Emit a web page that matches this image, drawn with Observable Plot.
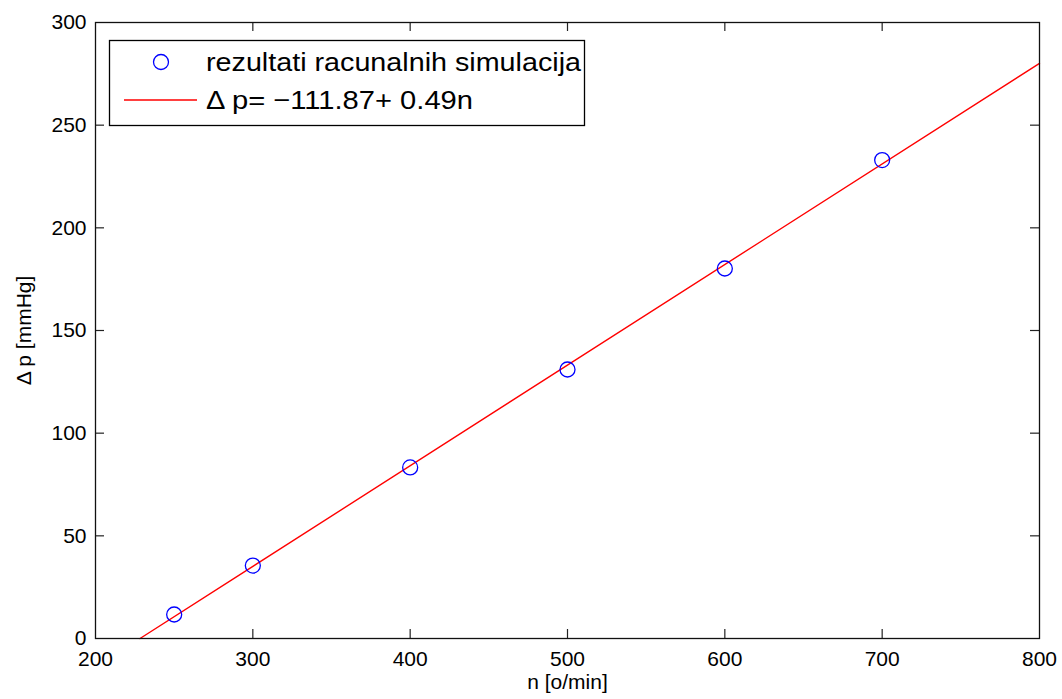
<!DOCTYPE html>
<html>
<head>
<meta charset="utf-8">
<script src="https://cdn.jsdelivr.net/npm/d3@7"></script>
<script src="https://cdn.jsdelivr.net/npm/@observablehq/plot@0.6"></script>
<style>
  html, body { margin: 0; padding: 0; background: #fff; }
  #chart { width: 1062px; height: 699px; }
</style>
</head>
<body>
<div id="chart"></div>
<script>
// Simulation results
const speedN = [250, 300, 400, 500, 600, 700];
const pressureP = [11.7, 35.5, 83.3, 131, 180.2, 233];

// Fitted line endpoints (Δp = -111.87 + 0.49n)
const fitN = [228.31, 800];
const fitP = [0, 280.13];

// Axis ticks
const xTicks = [200, 300, 400, 500, 600, 700, 800];
const yTicks = [0, 50, 100, 150, 200, 250, 300];

const legendLabels = ["rezultati racunalnih simulacija", "\u0394 p= \u2212111.87+ 0.49n"];
const xLabel = "n [o/min]";
const yLabel = "\u0394 p [mmHg]";

const points = speedN.map((n, i) => ({n, p: pressureP[i]}));
const fit = fitN.map((n, i) => ({n, p: fitP[i]}));

const W = 1062, H = 699;
const mL = 95, mR = 23, mT = 22, mB = 61;
const plotW = W - mL - mR, plotH = H - mT - mB;
const tickLen = 9;
const font = "'Liberation Sans', Arial, Helvetica, sans-serif";

const chart = Plot.plot({
  width: W,
  height: H,
  marginLeft: mL,
  marginRight: mR,
  marginTop: mT,
  marginBottom: mB,
  style: {fontFamily: font, fontSize: "21px", background: "#fff", color: "#000"},
  x: {domain: [200, 800]},
  y: {domain: [0, 300]},
  marks: [
    Plot.line(fit, {x: "n", y: "p", stroke: "red", strokeWidth: 1.4}),
    Plot.dot(points, {x: "n", y: "p", r: 7.5, stroke: "blue", strokeWidth: 1.3, fill: "none"}),
    // inward ticks
    Plot.ruleX(xTicks.slice(1, -1), {x: d => d, insetTop: plotH - tickLen, stroke: "#222", strokeWidth: 1.2}),
    Plot.ruleX(xTicks.slice(1, -1), {x: d => d, insetBottom: plotH - tickLen, stroke: "#222", strokeWidth: 1.2}),
    Plot.ruleY(yTicks.slice(1, -1), {y: d => d, insetRight: plotW - tickLen, stroke: "#222", strokeWidth: 1.2}),
    Plot.ruleY(yTicks.slice(1, -1), {y: d => d, insetLeft: plotW - tickLen, stroke: "#222", strokeWidth: 1.2}),
    Plot.frame({stroke: "#111", strokeWidth: 1.3}),
    Plot.axisX({ticks: xTicks, tickSize: 0, tickPadding: 13, label: null, fontSize: 21}),
    Plot.axisY({ticks: yTicks, tickSize: 0, tickPadding: 9, label: null, fontSize: 21}),
    Plot.text([xLabel], {frameAnchor: "bottom", dy: 50, fontSize: 21, textAnchor: "middle"}),
    Plot.text([yLabel], {frameAnchor: "left", dx: -71, rotate: -90, fontSize: 21, textAnchor: "middle"})
  ]
});

document.getElementById("chart").appendChild(chart);

// Legend box drawn into the SVG
const svg = d3.select(chart);
const lg = svg.append("g").attr("font-family", font).attr("text-anchor", "start");
lg.append("rect")
  .attr("x", 109.5).attr("y", 40.5).attr("width", 475).attr("height", 85)
  .attr("fill", "#fff").attr("stroke", "#000").attr("stroke-width", 1.3);
lg.append("circle")
  .attr("cx", 161).attr("cy", 62).attr("r", 7.5)
  .attr("fill", "none").attr("stroke", "blue").attr("stroke-width", 1.3);
lg.append("line")
  .attr("x1", 124).attr("x2", 197).attr("y1", 100).attr("y2", 100)
  .attr("stroke", "red").attr("stroke-width", 1.4);
const legendWidths = [375, 267];
lg.selectAll("text.lab").data(legendLabels).join("text")
  .attr("class", "lab")
  .attr("x", 206)
  .attr("y", (d, i) => i === 0 ? 62 : 100)
  .attr("dy", "0.35em")
  .attr("text-anchor", "start")
  .attr("font-size", 26)
  .attr("textLength", (d, i) => legendWidths[i])
  .attr("lengthAdjust", "spacingAndGlyphs")
  .attr("fill", "#000")
  .text(d => d);
</script>
</body>
</html>
